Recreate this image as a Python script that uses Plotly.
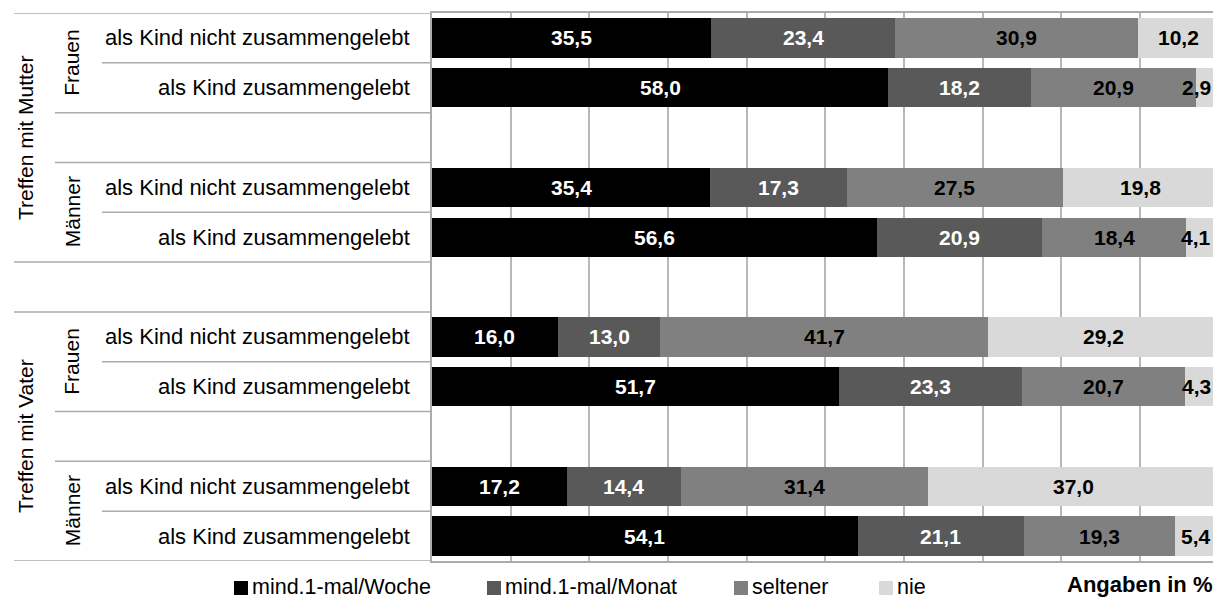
import plotly.graph_objects as go

# ---------------- data ----------------
row_labels = ["als Kind nicht zusammengelebt", "als Kind zusammengelebt",
              "als Kind nicht zusammengelebt", "als Kind zusammengelebt",
              "als Kind nicht zusammengelebt", "als Kind zusammengelebt",
              "als Kind nicht zusammengelebt", "als Kind zusammengelebt"]
row_slots = [0, 1, 3, 4, 6, 7, 9, 10]

gender_labels = ["Frauen", "Männer", "Frauen", "Männer"]
gender_slots = [0.5, 3.5, 6.5, 9.5]

parent_labels = ["Treffen mit Mutter", "Treffen mit Vater"]
parent_slots = [2, 8]

series_names = ["mind.1-mal/Woche", "mind.1-mal/Monat", "seltener", "nie"]
woche = [35.5, 58.0, 35.4, 56.6, 16.0, 51.7, 17.2, 54.1]
monat = [23.4, 18.2, 17.3, 20.9, 13.0, 23.3, 14.4, 21.1]
seltener = [30.9, 20.9, 27.5, 18.4, 41.7, 20.7, 31.4, 19.3]
nie = [10.2, 2.9, 19.8, 4.1, 29.2, 4.3, 37.0, 5.4]
series_values = [woche, monat, seltener, nie]

colors = ["#000000", "#595959", "#808080", "#d9d9d9"]
text_colors = ["#ffffff", "#ffffff", "#000000", "#000000"]
unit_note = "Angaben in %"

# ---------------- layout geometry ----------------
W, H = 1213, 599
L, R, T, B = 432, 0, 13, 38
PW = W - L - R
PH = H - T - B
XMAX = PW / 78.67 * 10  # 10 % per 78.67 px
FONT = "Liberation Sans, Arial, sans-serif"
LINE = "#ababab"
GRID = "#b8b8b8"


def px(x):
    return (x - L) / PW


def py(y):
    return 1 - (y - T) / PH


fig = go.Figure()

for name, vals, col in zip(series_names, series_values, colors):
    fig.add_trace(go.Bar(
        y=row_slots, x=vals, name=name, orientation="h",
        marker=dict(color=col, line=dict(width=0)),
        width=0.79, showlegend=False, hoverinfo="x+name",
    ))

annotations = []
# value labels
for i, slot in enumerate(row_slots):
    cum = 0.0
    for s, vals in enumerate(series_values):
        v = vals[i]
        mid = cum + v / 2
        cum += v
        txt = "<b>" + f"{v:.1f}".replace(".", ",") + "</b>"
        if v < 6 and s == len(series_values) - 1:
            annotations.append(dict(x=XMAX, y=slot, xref="x", yref="y", text=txt,
                                    showarrow=False, xanchor="right", yanchor="middle",
                                    font=dict(family=FONT, size=21, color=text_colors[s])))
        else:
            annotations.append(dict(x=mid, y=slot, xref="x", yref="y", text=txt,
                                    showarrow=False, xanchor="center", yanchor="middle",
                                    font=dict(family=FONT, size=21, color=text_colors[s])))

# row labels
for lab, slot in zip(row_labels, row_slots):
    annotations.append(dict(x=px(412), y=slot, xref="paper", yref="y", text=lab,
                            showarrow=False, xanchor="right", yanchor="middle",
                            font=dict(family=FONT, size=22, color="#000000")))
# gender labels
for lab, slot in zip(gender_labels, gender_slots):
    annotations.append(dict(x=px(72), y=slot, xref="paper", yref="y", text=lab,
                            showarrow=False, textangle=-90, xanchor="center", yanchor="middle",
                            font=dict(family=FONT, size=21, color="#000000")))
# parent labels
for lab, slot in zip(parent_labels, parent_slots):
    annotations.append(dict(x=px(25.5), y=slot, xref="paper", yref="y", text=lab,
                            showarrow=False, textangle=-90, xanchor="center", yanchor="middle",
                            font=dict(family=FONT, size=21, color="#000000")))

shapes = []
# separator lines in the label area
sep = [(-0.5, 14), (0.5, 102), (1.5, 55), (2.5, 55), (3.5, 102), (4.5, 14),
       (5.5, 14), (6.5, 102), (7.5, 55), (8.5, 55), (9.5, 102), (10.5, 14)]
for yv, x0 in sep:
    shapes.append(dict(type="line", xref="paper", yref="y", x0=px(x0), x1=0, y0=yv, y1=yv,
                       line=dict(color=LINE, width=1.5)))

# legend (squares + text)
leg_sq = [234, 487, 734, 879]
for name, col, x0 in zip(series_names, colors, leg_sq):
    shapes.append(dict(type="rect", xref="paper", yref="paper", x0=px(x0), x1=px(x0 + 14),
                       y0=py(595), y1=py(581), fillcolor=col, line=dict(width=0)))
    annotations.append(dict(x=px(x0 + 16), y=py(587), xref="paper", yref="paper", text=name,
                            showarrow=False, xanchor="left", yanchor="middle",
                            font=dict(family=FONT, size=21.5, color="#000000")))
annotations.append(dict(x=px(1214), y=py(584), xref="paper", yref="paper",
                        text="<b>" + unit_note + "</b>", showarrow=False,
                        xanchor="right", yanchor="middle",
                        font=dict(family=FONT, size=22, color="#000000")))

fig.update_layout(
    width=W, height=H,
    margin=dict(l=L, r=R, t=T, b=B, pad=0),
    paper_bgcolor="#ffffff", plot_bgcolor="#ffffff",
    barmode="stack", bargap=0.21,
    showlegend=False,
    annotations=annotations, shapes=shapes,
    xaxis=dict(range=[0, XMAX], dtick=10, tick0=0, showgrid=True, gridcolor=GRID, gridwidth=1.5,
               zeroline=False, showticklabels=False, ticks="", showline=True,
               linecolor=LINE, linewidth=1.5, mirror=True, fixedrange=True),
    yaxis=dict(range=[10.5, -0.5], showgrid=False, zeroline=False, showticklabels=False,
               ticks="", showline=True, linecolor=LINE, linewidth=1.5, fixedrange=True),
)

fig.write_html("out.html", config={"displayModeBar": False},
               post_script="document.body.style.margin='0';document.body.style.overflow='hidden';")
